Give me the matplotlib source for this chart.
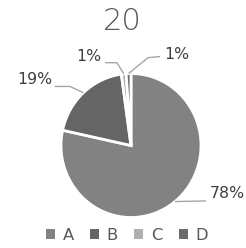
import matplotlib
matplotlib.use("Agg")
import matplotlib.pyplot as plt
import numpy as np

title = "20"
categories = ["A", "B", "C", "D"]
values = [78.4, 19.4, 1.1, 1.1]
labels = ["78%", "19%", "1%", "1%"]
colors = ["#828282", "#656565", "#b0b0b0", "#6c6c6c"]

fig = plt.figure(figsize=(2.46, 2.48), dpi=100)
W, H = 246, 248
cx, cy, rx, ry = 131, 145.5, 70, 72
ax = fig.add_axes([(cx - rx) / W, (H - cy - ry) / H, 2 * rx / W, 2 * ry / H])
wedges, _ = ax.pie(values, colors=colors, startangle=90, counterclock=False,
                   radius=1.0, wedgeprops=dict(edgecolor="white", linewidth=2.0))
ax.set_xlim(-1, 1)
ax.set_ylim(-1, 1)
ax.set_aspect("auto")
ax.axis("off")

# label layout: (elbow point, line end, text anchor, ha)
layout = [
    ((1.06, -0.77), (1.07, -0.77), (1.13, -0.67), "left"),
    ((-0.87, 0.82), (-1.09, 0.82), (-1.12, 0.91), "right"),
    ((-0.20, 1.15), (-0.37, 1.15), (-0.43, 1.23), "right"),
    ((0.243, 1.22), (0.414, 1.235), (0.48, 1.27), "left"),
]
line_col = "#a6a6a6"
for w, lab, (elb, end, txt, ha) in zip(wedges, labels, layout):
    mid = np.deg2rad((w.theta1 + w.theta2) / 2)
    ex, ey = np.cos(mid), np.sin(mid)
    ax.plot([ex, elb[0], end[0]], [ey, elb[1], end[1]], color=line_col,
            lw=1.0, clip_on=False, solid_capstyle="butt")
    ax.text(txt[0], txt[1], lab, ha=ha, va="center", fontsize=11.3,
            color="#404040", clip_on=False)

fig.text(122 / W, 1 - 22 / H, title, ha="center", va="center",
         fontsize=22, color="#595959", fontweight="light")

leg = fig.legend(wedges, categories, loc="center", bbox_to_anchor=(127 / W, 1 - 235 / H),
                 ncol=4, frameon=False, fontsize=11.8, handlelength=0.55,
                 handleheight=0.55, handletextpad=0.45, columnspacing=1.0,
                 labelcolor="#595959")
for h in leg.legend_handles:
    h.set_edgecolor("none")

fig.savefig("out.png", dpi=100, facecolor="white")
